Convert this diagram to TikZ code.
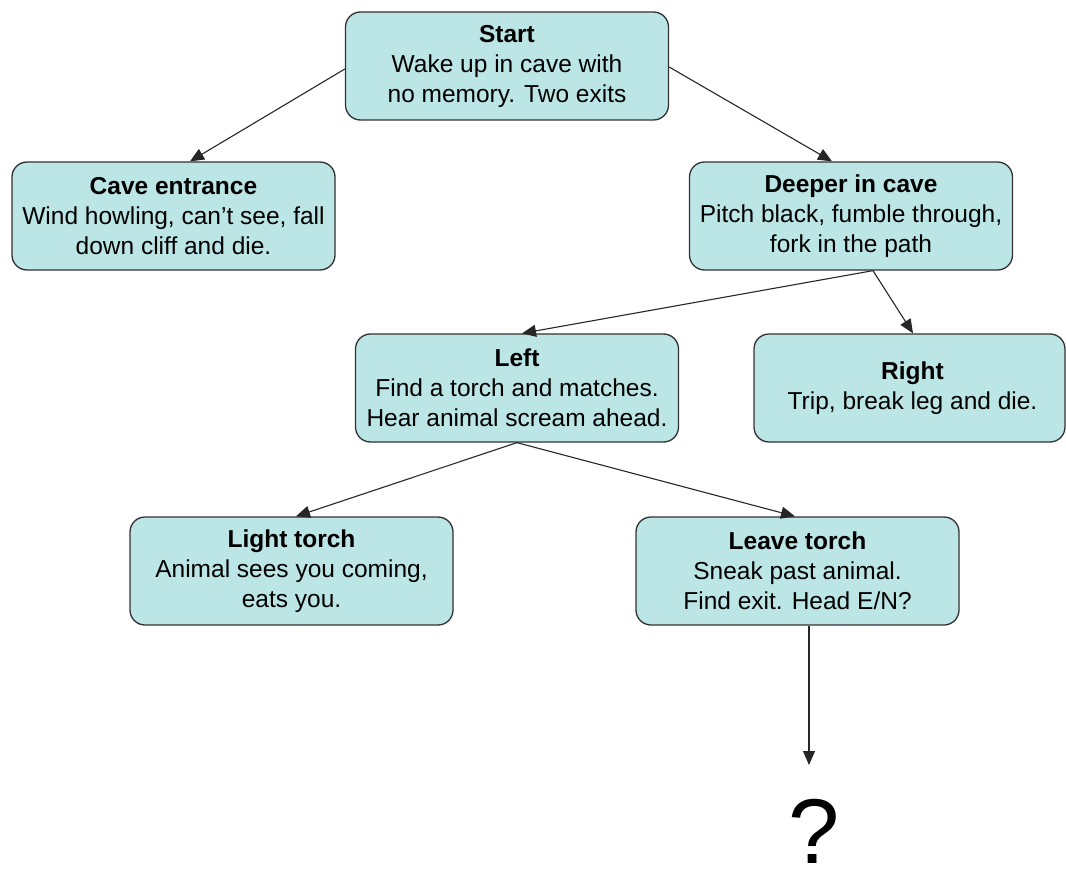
\documentclass[tikz,border=0pt]{standalone}
\usepackage{fontspec}
\setmainfont{Liberation Sans}
\usetikzlibrary{arrows.meta}
\definecolor{boxfill}{RGB}{188,229,230}
\definecolor{boxline}{RGB}{50,50,50}
\tikzset{
  storybox/.style={draw=boxline, line width=1.3pt, fill=boxfill, rounded corners=15pt,
    minimum width=323pt, minimum height=108pt, inner sep=0pt, align=center,
    font=\fontsize{24.5}{30}\selectfont},
  link/.style={draw=black!85, line width=1.1pt, -{Triangle[length=14pt,width=12pt]}}
}
\begin{document}
\begin{tikzpicture}[x=1pt,y=-1pt]
\useasboundingbox (0,0) rectangle (1066,872);
\node[storybox] (start) at (507,66) {\textbf{Start}\\Wake up in cave with\\no memory. Two exits};
\node[storybox] (cave) at (173.5,216) {\textbf{Cave entrance}\\Wind howling, can't see, fall\\down cliff and die.};
\node[storybox] (deeper) at (851,216) {\textbf{Deeper in cave}\\Pitch black, fumble through,\\fork in the path};
\node[storybox] (left) at (517,388) {\textbf{Left}\\Find a torch and matches.\\Hear animal scream ahead.};
\node[storybox, minimum width=311pt] (right) at (909.5,388) {\hspace*{6pt}\textbf{Right}\\\hspace*{6pt}Trip, break leg and die.};
\node[storybox] (light) at (291.5,571) {\textbf{Light torch}\\Animal sees you coming,\\eats you.};
\node[storybox] (leave) at (797.5,571) {\textbf{Leave torch}\\Sneak past animal.\\Find exit. Head E/N?};
\node[anchor=base, inner sep=0pt, font=\fontsize{92}{100}\selectfont] (q) at (814,863) {?};
\coordinate (qtop) at (809,765);
\draw[link] ([yshift=-3pt]start.west) -- ([xshift=16.5pt]cave.north);
\draw[link] ([yshift=-1pt]start.east) -- ([xshift=-19pt]deeper.north);
\draw[link] ([xshift=22pt]deeper.south) -- ([xshift=5pt]left.north);
\draw[link] ([xshift=22pt]deeper.south) -- ([xshift=3.5pt]right.north);
\draw[link] (left.south) -- ([xshift=4.5pt]light.north);
\draw[link] (left.south) -- ([xshift=-2.5pt]leave.north);
\draw[link] ([xshift=11.5pt]leave.south) -- (qtop);
\end{tikzpicture}
\end{document}
